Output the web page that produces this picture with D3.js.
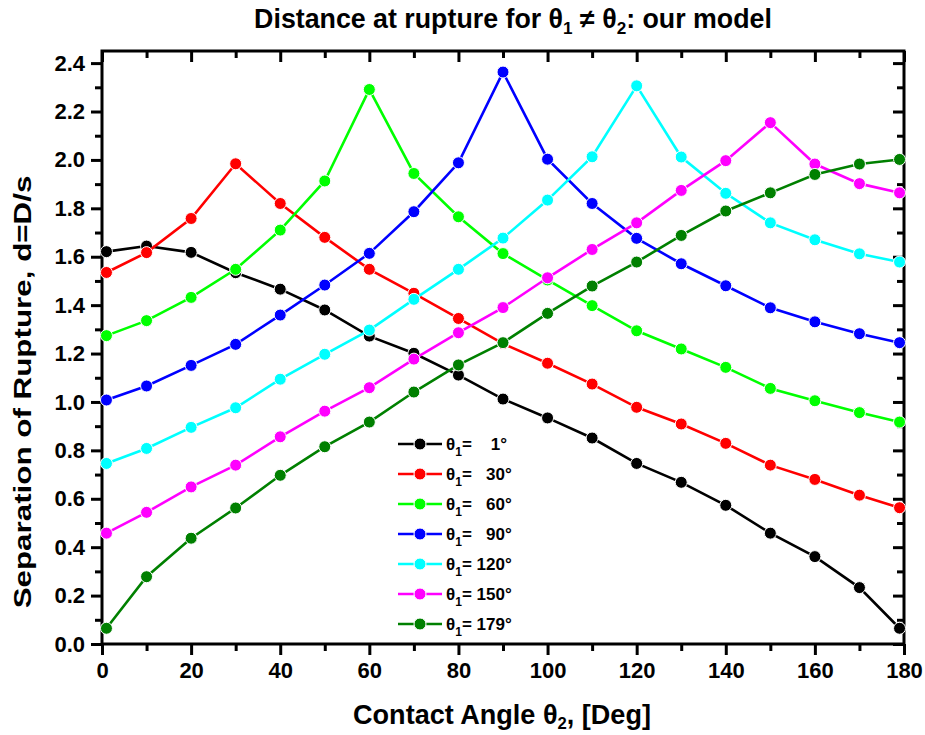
<!DOCTYPE html>
<html>
<head>
<meta charset="utf-8">
<script src="https://cdn.jsdelivr.net/npm/d3@7"></script>
<style>
  body { margin: 0; background: #fff; }
  svg { display: block; }
  text { font-family: "Liberation Sans", Arial, sans-serif; font-weight: bold; }
</style>
</head>
<body>
<svg id="chart" width="925" height="735"></svg>
<script>
// ---- data ----
const theta2 = [1, 10, 20, 30, 40, 50, 60, 70, 80, 90, 100, 110, 120, 130, 140, 150, 160, 170, 179];
const theta1Labels = ["1°", "30°", "60°", "90°", "120°", "150°", "179°"];
const seriesColors = ["#000000", "#ff0000", "#00ff00", "#0000ff", "#00ffff", "#ff00ff", "#008000"];
const s1   = [1.621, 1.644, 1.618, 1.534, 1.466, 1.380, 1.272, 1.201, 1.111, 1.012, 0.934, 0.851, 0.746, 0.668, 0.573, 0.458, 0.361, 0.233, 0.065];
const s30  = [1.535, 1.617, 1.758, 1.984, 1.820, 1.680, 1.548, 1.449, 1.345, 1.241, 1.160, 1.074, 0.978, 0.909, 0.829, 0.739, 0.680, 0.615, 0.563];
const s60  = [1.274, 1.336, 1.432, 1.548, 1.710, 1.913, 2.291, 1.944, 1.765, 1.613, 1.504, 1.398, 1.294, 1.219, 1.143, 1.056, 1.005, 0.956, 0.917];
const s90  = [1.008, 1.066, 1.151, 1.238, 1.359, 1.483, 1.614, 1.786, 1.988, 2.363, 2.003, 1.820, 1.676, 1.571, 1.480, 1.389, 1.331, 1.282, 1.245];
const s120 = [0.746, 0.808, 0.895, 0.976, 1.094, 1.197, 1.297, 1.424, 1.548, 1.677, 1.834, 2.013, 2.306, 2.012, 1.862, 1.740, 1.670, 1.612, 1.578];
const s150 = [0.458, 0.544, 0.649, 0.739, 0.856, 0.962, 1.059, 1.177, 1.286, 1.390, 1.513, 1.630, 1.740, 1.874, 1.997, 2.154, 1.983, 1.902, 1.864];
const s179 = [0.065, 0.278, 0.437, 0.562, 0.697, 0.815, 0.917, 1.041, 1.153, 1.245, 1.366, 1.479, 1.578, 1.688, 1.789, 1.864, 1.940, 1.983, 2.002];
const seriesValues = [s1, s30, s60, s90, s120, s150, s179];
const xTicks = [0, 20, 40, 60, 80, 100, 120, 140, 160, 180];
const xMinor = [10, 30, 50, 70, 90, 110, 130, 150, 170];
const yTicks = [0.0, 0.2, 0.4, 0.6, 0.8, 1.0, 1.2, 1.4, 1.6, 1.8, 2.0, 2.2, 2.4];
const yMinor = [0.1, 0.3, 0.5, 0.7, 0.9, 1.1, 1.3, 1.5, 1.7, 1.9, 2.1, 2.3];

// ---- layout ----
const L = 102, R = 904, T = 51, B = 644;
const svg = d3.select("#chart");
const x = d3.scaleLinear().domain([0, 180]).range([L, R]);
const y = d3.scaleLinear().domain([0, 2.45]).range([B, T]);

function styleAxis(g) {
  g.attr("font-family", null).attr("font-size", null);
  g.select(".domain").remove();
  g.selectAll("line").attr("stroke", "#000").attr("stroke-width", 3);
  g.selectAll("text").attr("fill", "#000").style("font-size", "22px").style("font-weight", "bold");
}

// minor ticks
svg.append("g").attr("transform", `translate(0,${B})`)
  .call(d3.axisBottom(x).tickValues(xMinor).tickSize(7).tickFormat(""))
  .call(styleAxis);
svg.append("g").attr("transform", `translate(0,${T})`)
  .call(d3.axisTop(x).tickValues(xMinor).tickSize(-7).tickFormat(""))
  .call(styleAxis);
svg.append("g").attr("transform", `translate(${L},0)`)
  .call(d3.axisLeft(y).tickValues(yMinor).tickSize(7).tickFormat(""))
  .call(styleAxis);
svg.append("g").attr("transform", `translate(${R},0)`)
  .call(d3.axisRight(y).tickValues(yMinor).tickSize(-7).tickFormat(""))
  .call(styleAxis);

// major ticks
svg.append("g").attr("transform", `translate(0,${B})`)
  .call(d3.axisBottom(x).tickValues(xTicks).tickSize(11).tickPadding(7).tickFormat(d3.format("d")))
  .call(styleAxis);
svg.append("g").attr("transform", `translate(0,${T})`)
  .call(d3.axisTop(x).tickValues(xTicks).tickSize(-11).tickFormat(""))
  .call(styleAxis);
svg.append("g").attr("transform", `translate(${L},0)`)
  .call(d3.axisLeft(y).tickValues(yTicks).tickSize(11).tickPadding(6).tickFormat(d3.format(".1f")))
  .call(styleAxis);
svg.append("g").attr("transform", `translate(${R},0)`)
  .call(d3.axisRight(y).tickValues(yTicks).tickSize(-11).tickFormat(""))
  .call(styleAxis);

// frame
svg.append("rect").attr("x", L).attr("y", T).attr("width", R - L).attr("height", B - T)
  .attr("fill", "none").attr("stroke", "#000").attr("stroke-width", 3);

// series
const line = d3.line().x((d, i) => x(theta2[i])).y(d => y(d));
seriesValues.forEach((vals, k) => {
  const g = svg.append("g");
  g.append("path").datum(vals).attr("d", line)
    .attr("fill", "none").attr("stroke", seriesColors[k]).attr("stroke-width", 2.6);
  g.selectAll("circle").data(vals).join("circle")
    .attr("cx", (d, i) => x(theta2[i])).attr("cy", d => y(d)).attr("r", 6)
    .attr("fill", seriesColors[k]).attr("stroke", "#fff").attr("stroke-width", 1);
});

// legend
const legendPad = ["   ", "  ", "  ", "  ", "", "", ""];
theta1Labels.forEach((lab, k) => {
  const ly = 444 + k * 30;
  svg.append("line").attr("x1", 398).attr("x2", 442).attr("y1", ly).attr("y2", ly)
    .attr("stroke", seriesColors[k]).attr("stroke-width", 2.6);
  svg.append("circle").attr("cx", 420).attr("cy", ly).attr("r", 6)
    .attr("fill", seriesColors[k]).attr("stroke", "#fff").attr("stroke-width", 1);
  const t = svg.append("text").attr("x", 446).attr("y", ly + 6).style("font-size", "17px")
    .style("white-space", "pre");
  t.append("tspan").text("θ");
  t.append("tspan").attr("dy", 6).style("font-size", "12px").text("1");
  t.append("tspan").attr("dy", -6).text("= " + legendPad[k] + lab);
});

// fit a text element's font size so its rendered width equals target
function fitWidth(sel, target) {
  const node = sel.node();
  const w = node.getBBox().width;
  if (w > 0) {
    const f = target / w;
    const base = parseFloat(sel.style("font-size"));
    sel.style("font-size", (base * f) + "px");
    sel.selectAll("tspan.sub").each(function() {
      const s = d3.select(this);
      s.style("font-size", (parseFloat(s.attr("data-fs")) * f) + "px");
    });
  }
}

// title
const title = svg.append("text").attr("x", 513).attr("y", 28).attr("text-anchor", "middle").style("font-size", "25px");
title.append("tspan").text("Distance at rupture for θ");
title.append("tspan").attr("class", "sub").attr("data-fs", 16).attr("dy", 6).style("font-size", "16px").text("1");
title.append("tspan").attr("dy", -6).text(" ≠ θ");
title.append("tspan").attr("class", "sub").attr("data-fs", 16).attr("dy", 6).style("font-size", "16px").text("2");
title.append("tspan").attr("dy", -6).text(": our model");
fitWidth(title, 518);

// x axis title
const xt = svg.append("text").attr("x", 502).attr("y", 724).attr("text-anchor", "middle").style("font-size", "26px");
xt.append("tspan").text("Contact Angle θ");
xt.append("tspan").attr("class", "sub").attr("data-fs", 16).attr("dy", 5).style("font-size", "16px").text("2");
xt.append("tspan").attr("dy", -5).text(", [Deg]");
fitWidth(xt, 298);

// y axis title: keep glyph height, stretch along the text direction to match span
const yt = svg.append("text").attr("text-anchor", "middle")
  .style("font-size", "24px").text("Separation of Rupture, d=D/s");
const ytw = yt.node().getBBox().width;
const ysx = ytw > 0 ? 433 / ytw : 1;
yt.attr("transform", `translate(31,392) rotate(-90) scale(${ysx},1)`);
</script>
</body>
</html>
